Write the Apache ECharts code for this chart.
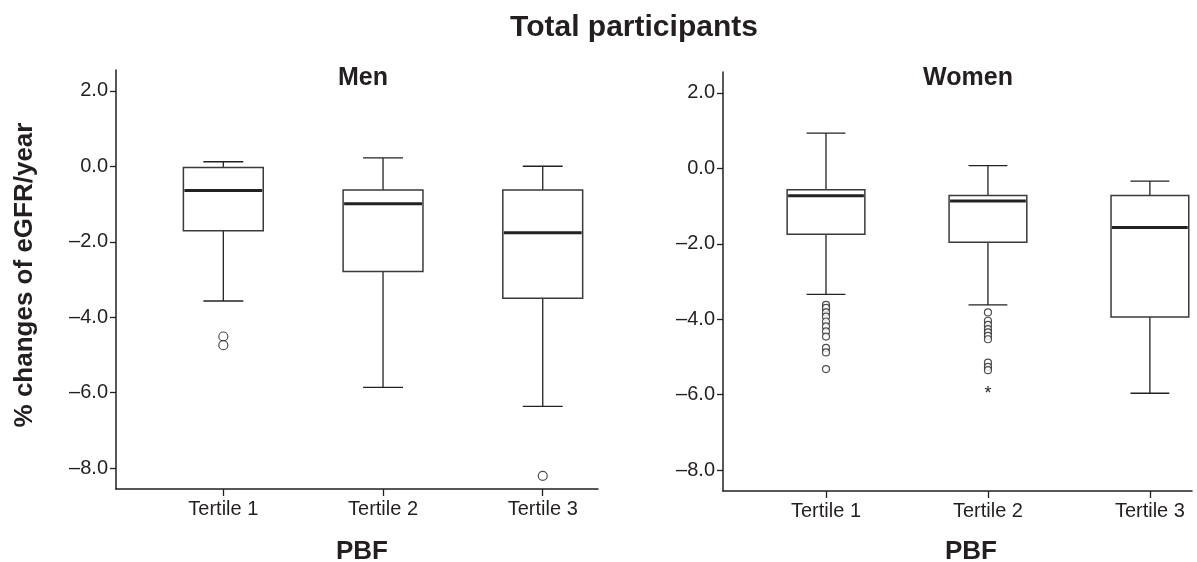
<!DOCTYPE html>
<html>
<head>
<meta charset="utf-8">
<script src="https://cdn.jsdelivr.net/npm/echarts@6/dist/echarts.min.js"></script>
<style>
html,body{margin:0;padding:0;background:#fff;}
#chart{width:1197px;height:562px;}
</style>
</head>
<body>
<div id="chart"></div>
<script>
// ---- data ----
const categories = ['Tertile 1', 'Tertile 2', 'Tertile 3'];
const yTicks = [-8, -6, -4, -2, 0, 2];
// [min whisker, Q1, median, Q3, max whisker]
const menBoxes = [
  [-3.57, -1.71, -0.64, -0.03, 0.12],
  [-5.86, -2.79, -0.99, -0.63, 0.22],
  [-6.36, -3.50, -1.76, -0.63, 0.00]
];
const womenBoxes = [
  [-3.34, -1.75, -0.73, -0.57, 0.93],
  [-3.62, -1.96, -0.87, -0.72, 0.07],
  [-5.96, -3.94, -1.57, -0.72, -0.34]
];
// outliers: [category index (1-based), value]
const menOutliers = [[1, -4.51], [1, -4.74], [3, -8.20]];
const womenOutliers = [
  [1, -3.62], [1, -3.70], [1, -3.82], [1, -3.93], [1, -4.06], [1, -4.19], [1, -4.32], [1, -4.46],
  [1, -4.76], [1, -4.88], [1, -5.32],
  [2, -3.82], [2, -4.04], [2, -4.15], [2, -4.26], [2, -4.35], [2, -4.44], [2, -4.53],
  [2, -5.15], [2, -5.26], [2, -5.35]
];
const womenExtremes = [[2, -5.90]];

// ---- chart ----
const TXT = '#231f20';
const FONT = '"Liberation Sans", Arial, sans-serif';
const chart = echarts.init(document.getElementById('chart'));

function boxData(boxes) {
  return boxes.map((b, i) => [i + 1].concat(b));
}
function makeBoxRenderer(boxUnits) {
  return function (params, api) {
    const x = api.value(0);
    const pMin = api.coord([x, api.value(1)]);
    const pQ1 = api.coord([x, api.value(2)]);
    const pMed = api.coord([x, api.value(3)]);
    const pQ3 = api.coord([x, api.value(4)]);
    const pMax = api.coord([x, api.value(5)]);
    const bw = api.size([boxUnits, 0])[0];
    const cw = bw / 2;
    const cx = pMed[0];
    const line = (x1, y1, x2, y2, w) => ({
      type: 'line', shape: {x1, y1, x2, y2},
      style: {stroke: '#222', lineWidth: w}
    });
    return {
      type: 'group',
      children: [
        line(cx, pMax[1], cx, pQ3[1], 1.3),
        line(cx, pQ1[1], cx, pMin[1], 1.3),
        line(cx - cw / 2, pMax[1], cx + cw / 2, pMax[1], 1.3),
        line(cx - cw / 2, pMin[1], cx + cw / 2, pMin[1], 1.3),
        {type: 'rect', shape: {x: cx - bw / 2, y: pQ3[1], width: bw, height: pQ1[1] - pQ3[1]},
         style: {fill: '#fff', stroke: '#3a3a3a', lineWidth: 1.5}},
        line(cx - bw / 2 + 1, pMed[1], cx + bw / 2 - 1, pMed[1], 3)
      ]
    };
  };
}
function renderStar(params, api) {
  const p = api.coord([api.value(0), api.value(1)]);
  return {type: 'text', x: p[0], y: p[1] + 3,
    style: {text: '*', font: '18px ' + FONT, fill: TXT, align: 'center', verticalAlign: 'middle'}};
}

function xAxisCfg(idx, min, max) {
  return {
    type: 'value', gridIndex: idx, min: min, max: max,
    axisLine: {show: true, onZero: false, lineStyle: {color: TXT, width: 1.5}},
    axisTick: {show: true, customValues: [1, 2, 3], length: 7, lineStyle: {color: TXT, width: 1.3}},
    axisLabel: {show: true, customValues: [1, 2, 3], formatter: v => categories[Math.round(v) - 1],
      fontSize: 20, fontFamily: FONT, color: TXT, margin: 10},
    splitLine: {show: false}
  };
}
function yAxisCfg(idx) {
  return {
    type: 'value', gridIndex: idx, min: -8.55, max: 2.55,
    axisLine: {show: true, onZero: false, lineStyle: {color: TXT, width: 1.5}},
    axisTick: {show: true, customValues: yTicks, length: 6, lineStyle: {color: TXT, width: 1.3}},
    axisLabel: {show: true, customValues: yTicks,
      formatter: v => (v < 0 ? '\u2013' : '') + Math.abs(v).toFixed(1),
      fontSize: 20, fontFamily: FONT, color: TXT, margin: 8},
    splitLine: {show: false}
  };
}

const option = {
  backgroundColor: '#fff',
  animation: false,
  grid: [
    {left: 116, right: 599, top: 70, bottom: 73},
    {left: 723, right: 5, top: 72, bottom: 71}
  ],
  xAxis: [xAxisCfg(0, 0.328, 3.346), xAxisCfg(1, 0.364, 3.26)],
  yAxis: [yAxisCfg(0), yAxisCfg(1)],
  graphic: [
    {type: 'text', x: 634, y: 28, style: {text: 'Total participants', font: 'bold 30px ' + FONT, fill: TXT, align: 'center', verticalAlign: 'middle'}},
    {type: 'text', x: 363, y: 78, style: {text: 'Men', font: 'bold 25px ' + FONT, fill: TXT, align: 'center', verticalAlign: 'middle'}},
    {type: 'text', x: 968, y: 78, style: {text: 'Women', font: 'bold 25px ' + FONT, fill: TXT, align: 'center', verticalAlign: 'middle'}},
    {type: 'text', x: 362, y: 552, style: {text: 'PBF', font: 'bold 26px ' + FONT, fill: TXT, align: 'center', verticalAlign: 'middle'}},
    {type: 'text', x: 971, y: 552, style: {text: 'PBF', font: 'bold 26px ' + FONT, fill: TXT, align: 'center', verticalAlign: 'middle'}},
    {type: 'text', x: 25, y: 275, rotation: Math.PI / 2, style: {text: '% changes of eGFR/year', font: 'bold 26px ' + FONT, fill: TXT, align: 'center', verticalAlign: 'middle'}}
  ],
  series: [
    {type: 'custom', xAxisIndex: 0, yAxisIndex: 0, data: boxData(menBoxes), renderItem: makeBoxRenderer(0.5), z: 2},
    {type: 'custom', xAxisIndex: 1, yAxisIndex: 1, data: boxData(womenBoxes), renderItem: makeBoxRenderer(0.48), z: 2},
    {type: 'scatter', xAxisIndex: 0, yAxisIndex: 0, data: menOutliers, symbol: 'circle', symbolSize: 9,
     itemStyle: {color: '#fff', borderColor: '#222', borderWidth: 1.2}, z: 3},
    {type: 'scatter', xAxisIndex: 1, yAxisIndex: 1, data: womenOutliers, symbol: 'circle', symbolSize: 7,
     itemStyle: {color: '#fff', borderColor: '#222', borderWidth: 1.2}, z: 3},
    {type: 'custom', xAxisIndex: 1, yAxisIndex: 1, data: womenExtremes, renderItem: renderStar, z: 3}
  ]
};
chart.setOption(option);
</script>
</body>
</html>
